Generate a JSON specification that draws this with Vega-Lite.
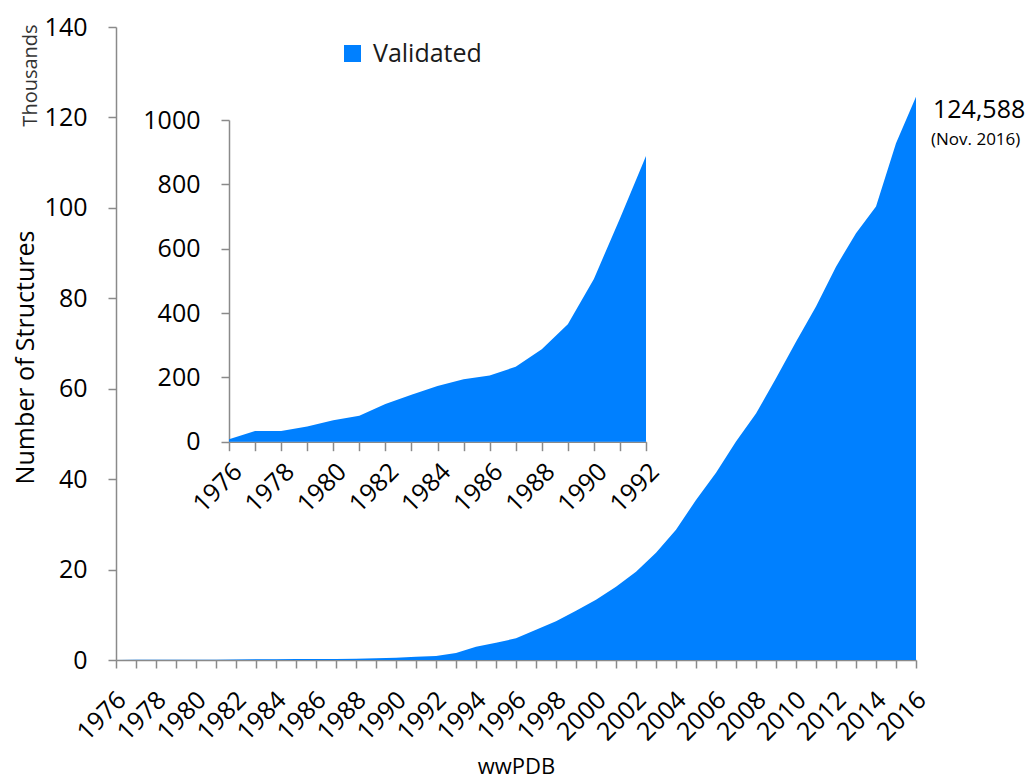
{
  "$schema": "https://vega.github.io/schema/vega-lite/v6.json",
  "width": 800,
  "height": 633,
  "autosize": {"type": "none"},
  "padding": {"left": 116, "top": 27, "right": 116, "bottom": 121},
  "background": "white",
  "config": {
    "view": {"stroke": null},
    "font": "Open Sans",
    "axis": {
      "grid": false,
      "labelFont": "Open Sans",
      "labelFontSize": 25,
      "labelColor": "#000000",
      "domainColor": "#8a8a8a",
      "tickColor": "#8a8a8a",
      "domainWidth": 1.5,
      "tickWidth": 1.5,
      "titleFont": "Open Sans",
      "titleFontWeight": "normal",
      "titleColor": "#000000",
      "labelOverlap": false,
      "labelFlush": false
    }
  },
  "datasets": {
    "pdb": [
      {"year": 1976, "structures": 8},
      {"year": 1977, "structures": 33},
      {"year": 1978, "structures": 33},
      {"year": 1979, "structures": 47},
      {"year": 1980, "structures": 67},
      {"year": 1981, "structures": 81},
      {"year": 1982, "structures": 117},
      {"year": 1983, "structures": 146},
      {"year": 1984, "structures": 173},
      {"year": 1985, "structures": 194},
      {"year": 1986, "structures": 206},
      {"year": 1987, "structures": 233},
      {"year": 1988, "structures": 287},
      {"year": 1989, "structures": 365},
      {"year": 1990, "structures": 506},
      {"year": 1991, "structures": 694},
      {"year": 1992, "structures": 888},
      {"year": 1993, "structures": 1550},
      {"year": 1994, "structures": 2950},
      {"year": 1995, "structures": 3800},
      {"year": 1996, "structures": 4800},
      {"year": 1997, "structures": 6700},
      {"year": 1998, "structures": 8550},
      {"year": 1999, "structures": 10900},
      {"year": 2000, "structures": 13300},
      {"year": 2001, "structures": 16200},
      {"year": 2002, "structures": 19500},
      {"year": 2003, "structures": 23700},
      {"year": 2004, "structures": 28800},
      {"year": 2005, "structures": 35400},
      {"year": 2006, "structures": 41400},
      {"year": 2007, "structures": 48300},
      {"year": 2008, "structures": 54500},
      {"year": 2009, "structures": 62300},
      {"year": 2010, "structures": 70400},
      {"year": 2011, "structures": 78200},
      {"year": 2012, "structures": 87000},
      {"year": 2013, "structures": 94400},
      {"year": 2014, "structures": 100300},
      {"year": 2015, "structures": 114300},
      {"year": 2016, "structures": 124588}
    ],
    "note": [
      {"year": 2016, "structures": 124588, "total": "124,588", "date": "(Nov. 2016)"}
    ]
  },
  "data": {"name": "pdb"},
  "resolve": {
    "scale": {"x": "independent", "y": "independent", "color": "independent"},
    "axis": {"x": "independent", "y": "independent"}
  },
  "layer": [
    {
      "mark": {"type": "area", "interpolate": "linear"},
      "encoding": {
        "x": {
          "field": "year",
          "type": "quantitative",
          "scale": {"domain": [1976, 2016], "nice": false, "zero": false},
          "axis": {
            "orient": "bottom",
            "values": [1976,1977,1978,1979,1980,1981,1982,1983,1984,1985,1986,1987,1988,1989,1990,1991,1992,1993,1994,1995,1996,1997,1998,1999,2000,2001,2002,2003,2004,2005,2006,2007,2008,2009,2010,2011,2012,2013,2014,2015,2016],
            "format": "d",
            "labelExpr": "datum.value % 2 == 0 ? datum.label : ''",
            "labelAngle": -45,
            "tickSize": 8,
            "labelPadding": 19,
            "labelOffset": -3,
            "title": "wwPDB",
            "titleFontSize": 22,
            "titleX": 400,
            "titleY": 113,
            "titleBaseline": "alphabetic"
          }
        },
        "y": {
          "field": "structures",
          "type": "quantitative",
          "scale": {"domain": [0, 140000], "nice": false},
          "axis": {
            "orient": "left",
            "values": [0, 20000, 40000, 60000, 80000, 100000, 120000, 140000],
            "labelExpr": "format(datum.value / 1000, 'd')",
            "tickSize": 8,
            "labelPadding": 21,
            "title": "Number of Structures",
            "titleFontSize": 25,
            "titleX": -91,
            "titleY": 330,
            "titleBaseline": "middle",
            "titleAngle": -90
          }
        },
        "color": {
          "datum": "Validated",
          "type": "nominal",
          "scale": {"range": ["#0080FF"]},
          "legend": {
            "orient": "none",
            "legendX": 224,
            "legendY": 14,
            "title": null,
            "symbolType": "square",
            "symbolSize": 289,
            "symbolStrokeWidth": 0,
            "labelFont": "Open Sans",
            "labelFontSize": 25,
            "labelColor": "#1a1a1a",
            "labelOffset": 8
          }
        }
      }
    },
    {
      "data": {"name": "note"},
      "layer": [
        {
          "mark": {"type": "text", "align": "left", "baseline": "alphabetic", "dx": 17, "dy": 21, "fontSize": 25, "font": "Open Sans", "color": "#000000"},
          "encoding": {
            "x": {"field": "year", "type": "quantitative", "scale": {"domain": [1976, 2016], "nice": false, "zero": false}, "axis": null},
            "y": {
              "field": "structures",
              "type": "quantitative",
              "scale": {"domain": [0, 140000], "nice": false},
              "axis": {
                "orient": "left",
                "title": "Thousands",
                "titleFontSize": 20,
                "titleColor": "#333333",
                "titleX": -86,
                "titleY": 48,
                "titleBaseline": "middle",
                "titleAngle": -90,
                "labels": false,
                "ticks": false,
                "domain": false
              }
            },
            "text": {"field": "total"}
          }
        },
        {
          "mark": {"type": "text", "align": "left", "baseline": "alphabetic", "dx": 15, "dy": 48, "fontSize": 17, "font": "Open Sans", "color": "#000000"},
          "encoding": {
            "x": {"field": "year", "type": "quantitative"},
            "y": {"field": "structures", "type": "quantitative"},
            "text": {"field": "date"}
          }
        }
      ]
    },
    {
      "transform": [{"filter": {"field": "year", "lte": 1992}}],
      "mark": {"type": "area", "interpolate": "linear", "color": "#0080FF"},
      "encoding": {
        "x": {
          "field": "year",
          "type": "quantitative",
          "scale": {"domain": [1976, 1992], "range": [113, 530], "nice": false, "zero": false},
          "axis": {
            "orient": "bottom",
            "offset": -218.3,
            "values": [1976,1977,1978,1979,1980,1981,1982,1983,1984,1985,1986,1987,1988,1989,1990,1991,1992],
            "format": "d",
            "labelExpr": "datum.value % 2 == 0 ? datum.label : ''",
            "labelAngle": -45,
            "tickSize": 9,
            "labelPadding": 8,
            "title": null
          }
        },
        "y": {
          "field": "structures",
          "type": "quantitative",
          "scale": {"domain": [0, 1000], "range": [414.7, 93], "nice": false},
          "axis": {
            "orient": "left",
            "offset": -113,
            "values": [0, 200, 400, 600, 800, 1000],
            "format": "d",
            "tickSize": 8,
            "labelPadding": 21,
            "title": null
          }
        }
      }
    }
  ]
}
